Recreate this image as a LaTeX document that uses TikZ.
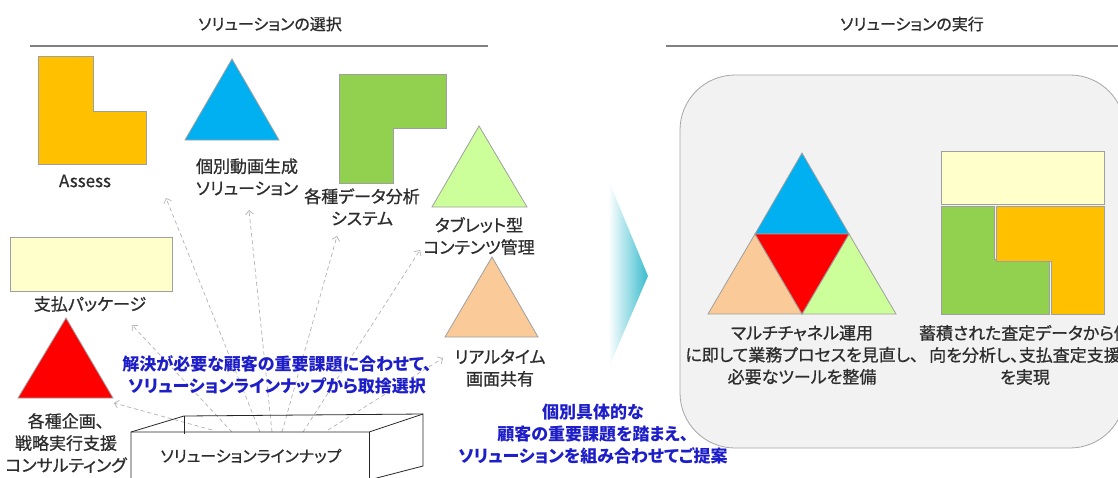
\documentclass[tikz,border=0pt]{standalone}
\usepackage{fontspec}
\setmainfont{Noto Sans CJK JP}[RawFeature={+palt}]
\newfontfamily\jpm{Noto Sans CJK JP}[RawFeature={+palt},FakeBold=0.8]
\usetikzlibrary{arrows.meta}
\definecolor{cOrange}{RGB}{255,192,0}
\definecolor{cBlue}{RGB}{0,176,240}
\definecolor{cGreen}{RGB}{146,208,80}
\definecolor{cLime}{RGB}{204,255,153}
\definecolor{cPeach}{RGB}{250,203,152}
\definecolor{cYellow}{RGB}{255,255,204}
\definecolor{cRed}{RGB}{255,0,0}
\definecolor{panelgray}{RGB}{242,242,242}
\definecolor{bluetxt}{RGB}{30,30,200}
\definecolor{tealc}{RGB}{72,193,210}
\definecolor{txt}{RGB}{45,45,45}
\pgfdeclarehorizontalshading{chev}{100bp}{color(0bp)=(white); color(25bp)=(white); color(37bp)=(white); color(72bp)=(tealc); color(100bp)=(tealc)}
\begin{document}
\begin{tikzpicture}[x=1pt,y=-1pt,
  lbl/.style={font=\jpm\fontsize{17}{22}\selectfont, align=center, text=txt, inner sep=0pt},
  ttl/.style={font=\jpm\fontsize{16}{20}\selectfont, text=txt, inner sep=0pt},
  blu/.style={font=\bfseries\fontsize{17}{22}\selectfont, text=bluetxt, align=center, inner sep=0pt},
  piece/.style={draw=gray!75, line width=0.8pt},
  arr/.style={draw=gray!60, line width=0.7pt, dash pattern=on 4pt off 3pt, -{Straight Barb[length=4pt,width=8pt]}},
  hline/.style={draw=gray, line width=1.6pt},
  box/.style={draw=black!85, line width=0.8pt}]
\useasboundingbox (0,0) rectangle (1118,477);
\clip (0,0) rectangle (1118,477);

% titles
\node[ttl] (t1) at (270,24) {ソリューションの選択};
\draw[hline] (30,46) -- (488,46);
\node[ttl] (t2) at (912,24) {ソリューションの実行};
\draw[hline] (666,46) -- (1118,46);

% right panel
\draw[fill=panelgray, draw=gray!70, line width=0.8pt, rounded corners=55pt] (680,75) rectangle (1125,448);

% chevron
\shade[shading=chev] (596,150) -- (648,276) -- (596,397) -- cycle;

% left shapes
\filldraw[piece, fill=cOrange] (38,56) -- (93,56) -- (93,111) -- (146,111) -- (146,164) -- (38,164) -- cycle;
\node[lbl] (assess) at (85,181) {Assess};
\filldraw[piece, fill=cBlue] (232,59) -- (279,140) -- (185,140) -- cycle;
\node[lbl] (douga) at (247,177) {個別動画生成\\ソリューション};
\filldraw[piece, fill=cGreen] (339,74) -- (446,74) -- (446,128) -- (393,128) -- (393,183) -- (339,183) -- cycle;
\node[lbl] (data) at (362,207) {各種データ分析\\システム};
\filldraw[piece, fill=cLime] (479,126) -- (527,207) -- (432,207) -- cycle;
\node[lbl] (tablet) at (479,236) {タブレット型\\コンテンツ管理};
\filldraw[piece, fill=cYellow] (10,237) rectangle (172,291);
\node[lbl] (shiharai) at (90,304) {支払パッケージ};
\filldraw[piece, fill=cRed] (66,318) -- (113,398) -- (18,398) -- cycle;
\node[lbl] (kikaku) at (66,443) {各種企画、\\戦略実行支援\\コンサルティング};
\filldraw[piece, fill=cPeach] (492,257) -- (538,337) -- (445,337) -- cycle;
\node[lbl] (realtime) at (500,368) {リアルタイム\\画面共有};

% arrows
\coordinate (s1) at (212,430); \coordinate (e1) at (114,403);
\coordinate (s2) at (232,432); \coordinate (e2) at (132,325);
\coordinate (s3) at (260,432); \coordinate (e3) at (166,198);
\coordinate (s4) at (272,432); \coordinate (e4) at (249,210);
\coordinate (s5) at (282,432); \coordinate (e5) at (337,236);
\coordinate (s6) at (303,432); \coordinate (e6) at (420,250);
\coordinate (s7) at (328,430); \coordinate (e7) at (443,358);
\foreach \i in {1,...,7} {\draw[arr] (s\i) -- (e\i);}

% lineup box
\coordinate (fl) at (131,432); \coordinate (fr) at (369,432);
\coordinate (bl) at (184,416); \coordinate (br) at (423,414);
\coordinate (flb) at (131,480); \coordinate (frb) at (369,480);
\coordinate (brb) at (423,466); \coordinate (blm) at (184,434);
\draw[box] (flb) -- (fl) -- (bl) -- (br) -- (brb) -- (frb);
\draw[box] (fl) -- (fr) -- (br);
\draw[box] (fr) -- (frb);
\draw[box] (bl) -- (blm);
\node[ttl] (lineup) at (251,456) {ソリューションラインナップ};

% blue texts
\node[blu] (sel) at (277,375) {解決が必要な顧客の重要課題に合わせて、\\ソリューションラインナップから取捨選択};
\node[blu] (prop) at (593,434) {個別具体的な\\顧客の重要課題を踏まえ、\\ソリューションを組み合わせてご提案};

% right: triangle combination
\filldraw[piece, fill=cBlue] (802,153) -- (849,234) -- (755,234) -- cycle;
\filldraw[piece, fill=cPeach] (755,234) -- (802,314) -- (708,314) -- cycle;
\filldraw[piece, fill=cLime] (849,234) -- (896,314) -- (802,314) -- cycle;
\filldraw[piece, fill=cRed] (755,234) -- (849,234) -- (802,314) -- cycle;
\node[lbl] (multi) at (802,355) {マルチチャネル運用\\に即して業務プロセスを見直し、\\必要なツールを整備};

% right: block combination
\filldraw[piece, fill=cYellow] (941,151) rectangle (1104,204);
\filldraw[piece, fill=cGreen] (941,206) -- (994,206) -- (994,259) -- (1049,259) -- (1049,314) -- (941,314) -- cycle;
\filldraw[piece, fill=cOrange] (996,206) -- (1104,206) -- (1104,314) -- (1051,314) -- (1051,261) -- (996,261) -- cycle;
\node[lbl] (chikuseki) at (1025,355) {蓄積された査定データから傾\\向を分析し、支払査定支援\\を実現};
\end{tikzpicture}
\end{document}
